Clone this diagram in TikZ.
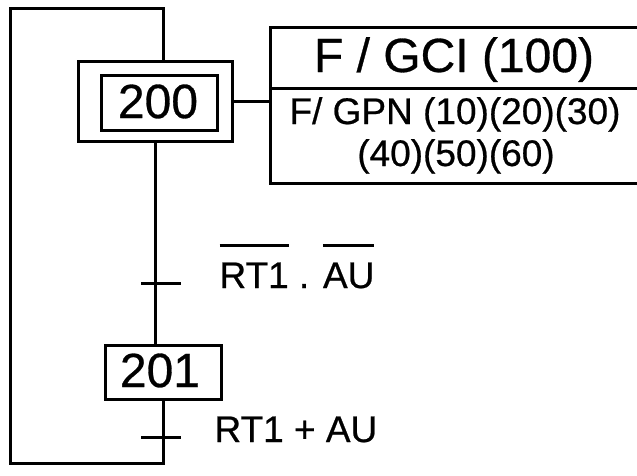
\documentclass[tikz,border=0pt]{standalone}
\usepackage{fontspec}
\setmainfont{Liberation Sans}[UprightFeatures={FakeBold=0.6}]
\newcommand\myovl[1]{\leavevmode\vbox{\hrule height 3pt\kern 16pt\hbox{#1}}}
\begin{document}
\begin{tikzpicture}[x=1pt,y=-1pt,line width=3pt,
  box/.style={draw,line width=3pt,inner sep=0pt,anchor=center},
  big/.style={font=\fontsize{48}{50}\selectfont,inner sep=0pt},
  mid/.style={font=\fontsize{37}{42}\selectfont,inner sep=0pt}]
\useasboundingbox (0,0) rectangle (637,475);
\clip (0,0) rectangle (637,475);
% step 200
\node[box,minimum width=154pt,minimum height=80pt] (s200) at (155,101) {};
\node[box,minimum width=116pt,minimum height=55pt] (s200i) at (159,102.5) {};
\node[big,anchor=base] (t200) at (158,118) {200};
% step 201
\node[box,minimum width=116pt,minimum height=54pt] (s201) at (163,372) {};
\node[big,anchor=base] (t201) at (160,387) {201};
% actions
\node[box,minimum width=370pt,minimum height=61pt] (acttop) at (455,57.5) {};
\node[box,minimum width=370pt,minimum height=95pt] (actbot) at (455,135.5) {};
\node[big,anchor=base] (tgci) at (454,72) {F / GCI (100)};
\node[mid,anchor=base] (tgpn1) at (455,124) {F/ GPN (10)(20)(30)};
\node[mid,anchor=base] (tgpn2) at (456,166) {(40)(50)(60)};
% transition labels
\node[mid,anchor=base west] (cond1) at (218,288) {\myovl{RT1} . \myovl{AU}};
\node[mid,anchor=base west] (cond2) at (213,442) {RT1 + AU};
% connectors
\draw (s200.east) -- (s200.east -| actbot.west);
\draw (s200.south) -- (s200.south |- s201.north);
\coordinate (tr1) at (161,283);
\draw ([xshift=-20pt]tr1) -- ([xshift=20pt]tr1);
\coordinate (tr2) at (161,437);
\draw ([xshift=-20pt]tr2) -- ([xshift=20pt]tr2);
\coordinate (lb) at (163,463);
\coordinate (lbl) at (10,463);
\coordinate (ltl) at (10,8);
\coordinate (lt) at (163,8);
\draw (s201.south -| lb) -- (lb) -- (lbl) -- (ltl) -- (lt) -- (lt |- s200.north);
\end{tikzpicture}
\end{document}
